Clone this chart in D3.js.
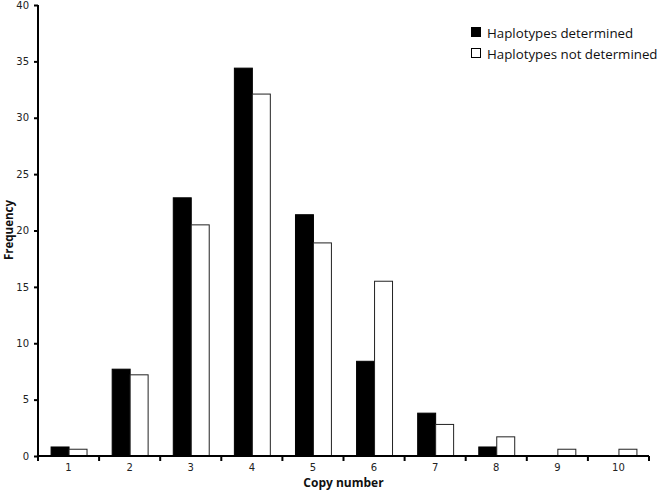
<!DOCTYPE html>
<html>
<head>
<meta charset="utf-8">
<script src="https://cdn.jsdelivr.net/npm/d3@7"></script>
<style>
body{margin:0;background:#fff;}
svg{display:block;}
</style>
</head>
<body>
<svg id="chart" width="657" height="490"></svg>
<script>
const categories = ["1","2","3","4","5","6","7","8","9","10"];
const seriesNames = ["Haplotypes determined","Haplotypes not determined"];
const determined = [0.8, 7.7, 22.9, 34.4, 21.4, 8.4, 3.8, 0.8, 0, 0];
const notDetermined = [0.6, 7.2, 20.5, 32.1, 18.9, 15.5, 2.8, 1.7, 0.6, 0.6];
const yTicks = [0,5,10,15,20,25,30,35,40];

const svg = d3.select("#chart");
const mLeft = 38, mRight = 649, mTop = 5, mBottom = 456;

const x = d3.scaleBand().domain(categories).range([mLeft, mRight]).paddingInner(0).paddingOuter(0);
const inner = d3.scaleBand().domain([0,1]).range([0, x.bandwidth()]).paddingInner(0).paddingOuter(0.7);
const y = d3.scaleLinear().domain([0,40]).range([mBottom, mTop]);

const series = [determined, notDetermined];
const fills = ["#000","#fff"];

series.forEach((vals, si) => {
  const rows = vals.map((v,i) => ({cat: categories[i], v})).filter(d => d.v > 0);
  svg.append("g").selectAll("rect").data(rows).join("rect")
    .attr("x", d => x(d.cat) + inner(si) + 0.5)
    .attr("y", d => y(d.v))
    .attr("width", inner.bandwidth())
    .attr("height", d => mBottom - y(d.v))
    .attr("fill", fills[si])
    .attr("stroke", si ? "#222" : "#000")
    .attr("stroke-width", 1);
});

// Y axis
const yAxis = d3.axisLeft(y).tickValues(yTicks).tickSize(4).tickPadding(5);
const gy = svg.append("g").attr("transform", `translate(${mLeft},0)`).call(yAxis);
gy.select(".domain").attr("stroke-width", 2).attr("d", `M0,${mTop}V${mBottom}`);
gy.selectAll(".tick line").attr("stroke-width", 2);
gy.selectAll("text").attr("font-family", "DejaVu Sans, Verdana, sans-serif").attr("font-size", 10).attr("fill", "#222");

// X axis
const xAxis = d3.axisBottom(x).tickSize(0).tickPadding(8);
const gx = svg.append("g").attr("transform", `translate(0,${mBottom})`).call(xAxis);
gx.select(".domain").attr("stroke-width", 2).attr("d", `M${mLeft},0H${mRight}`);
gx.selectAll("text").attr("font-family", "DejaVu Sans, Verdana, sans-serif").attr("font-size", 10).attr("fill", "#222");
const bounds = categories.map(c => x(c)).concat([mRight]);
gx.append("g").selectAll("line").data(bounds).join("line")
  .attr("x1", d => d).attr("x2", d => d).attr("y1", 0).attr("y2", 5)
  .attr("stroke", "#000").attr("stroke-width", 2);

// Axis titles
svg.append("text").attr("x", (mLeft+mRight)/2).attr("y", 487).attr("text-anchor","middle")
  .attr("font-family","Open Sans, sans-serif").attr("font-weight","bold").attr("font-size",12).attr("fill","#111")
  .text("Copy number");
svg.append("text").attr("transform","translate(12.5,230) rotate(-90)").attr("text-anchor","middle")
  .attr("font-family","Open Sans, sans-serif").attr("font-weight","bold").attr("font-size",11.5).attr("fill","#111")
  .text("Frequency");

// Legend
const lg = svg.append("g").attr("transform","translate(471,0)");
seriesNames.forEach((n,i) => {
  const cy = 33 + i*21;
  lg.append("rect").attr("x",0.5).attr("y",cy-5.5).attr("width",9).attr("height",9)
    .attr("fill", fills[i]).attr("stroke","#000").attr("stroke-width",1);
  lg.append("text").attr("x",16).attr("y",cy).attr("dy","0.35em")
    .attr("font-family","Open Sans, sans-serif").attr("font-size",13.3).attr("fill","#111")
    .text(n);
});
</script>
</body>
</html>
